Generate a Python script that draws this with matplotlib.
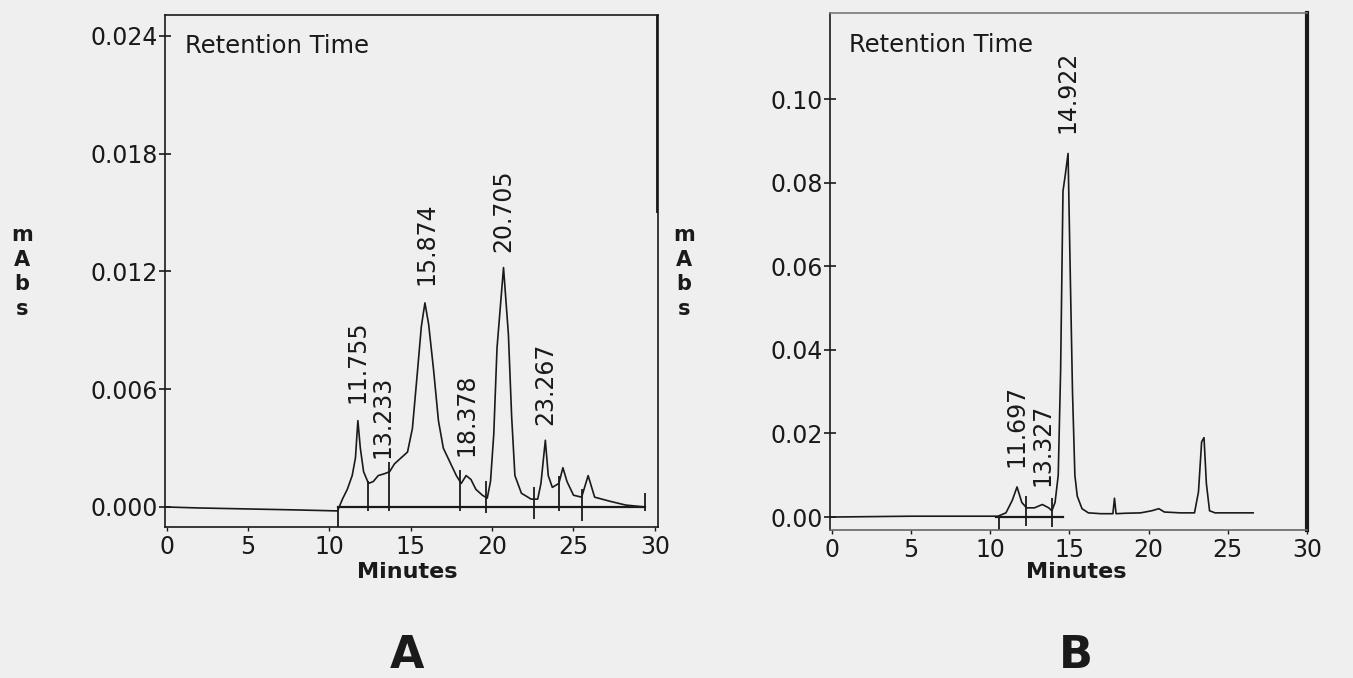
import numpy as np
import matplotlib.pyplot as plt

# ---- panel A chromatogram (minutes, absorbance) ----
time_a = [0, 2, 5, 8, 10.5, 10.8, 11.1, 11.4, 11.6, 11.75, 11.9, 12.1, 12.4, 12.7,
          13.0, 13.4, 13.7, 14.0, 14.4, 14.8, 15.1, 15.4, 15.65, 15.87, 16.1, 16.4,
          16.7, 17.0, 17.4, 17.8, 18.1, 18.4, 18.7, 19.0, 19.4, 19.7, 19.9, 20.1,
          20.3, 20.7, 21.0, 21.2, 21.4, 21.8, 22.4, 22.8, 23.0, 23.27, 23.45, 23.7,
          24.1, 24.35, 24.6, 25.0, 25.5, 25.9, 26.3, 27.2, 28.2, 29.4]
abs_a = [0.0000, -0.00005, -0.0001, -0.00015, -0.0002, 0.0004, 0.0009, 0.0016,
         0.0025, 0.0044, 0.0030, 0.0018, 0.0012, 0.0013, 0.0016, 0.0017, 0.0018,
         0.0022, 0.0025, 0.0028, 0.0040, 0.0068, 0.0092, 0.0104, 0.0093, 0.0070,
         0.0044, 0.0030, 0.0023, 0.0016, 0.0012, 0.0016, 0.0014, 0.0009, 0.0006,
         0.00045, 0.0013, 0.0037, 0.0081, 0.0122, 0.0088, 0.0046, 0.0016, 0.0007,
         0.0004, 0.0004, 0.0012, 0.0034, 0.0016, 0.0010, 0.0012, 0.0020, 0.0013,
         0.0006, 0.0005, 0.0016, 0.0005, 0.0003, 0.0001, 0.0000]
base_a = [10.5, 29.4]
drops_a = [10.5, 12.35, 13.65, 18.05, 19.65, 22.55, 24.1, 25.55, 29.4]
drop_top_a = [0.0000, 0.0013, 0.0023, 0.0019, 0.0013, 0.0010, 0.0016, 0.0009, 0.0007]
drop_bot_a = [-0.0010, -0.0002, -0.0002, -0.0002, -0.0003, -0.0006, -0.0002, -0.0007, -0.0002]
peaks_a = ['11.755', '13.233', '15.874', '18.378', '20.705', '23.267']
peak_t_a = [11.75, 13.25, 15.95, 18.45, 20.7, 23.25]
peak_lab_y_a = [0.0053, 0.0025, 0.0113, 0.0026, 0.0130, 0.0042]

# ---- panel B chromatogram ----
time_b = [0, 5, 10, 10.5, 11.0, 11.4, 11.7, 12.0, 12.3, 12.8, 13.3, 13.7, 13.9,
          14.1, 14.3, 14.45, 14.6, 14.75, 14.92, 15.05, 15.2, 15.35, 15.5, 15.8,
          16.2, 17.0, 17.75, 17.85, 17.95, 18.5, 19.5, 20.2, 20.65, 21.0, 22.0,
          22.9, 23.15, 23.35, 23.5, 23.65, 23.85, 24.2, 25.0, 26.6]
abs_b = [0.0, 0.0002, 0.0002, 0.0002, 0.0010, 0.0040, 0.0072, 0.0035, 0.0022,
         0.0022, 0.0030, 0.0022, 0.0015, 0.0035, 0.0100, 0.0350, 0.0780, 0.0820,
         0.0870, 0.0600, 0.0300, 0.0100, 0.0050, 0.0020, 0.0010, 0.0008, 0.0008,
         0.0045, 0.0008, 0.0009, 0.0010, 0.0015, 0.0020, 0.0012, 0.0010, 0.0010,
         0.0060, 0.0180, 0.0190, 0.0080, 0.0015, 0.0010, 0.0010, 0.0010]
base_b = [10.35, 14.6]
drops_b = [10.55, 12.25, 13.9]
drop_top_b = [0.0000, 0.0050, 0.0045]
drop_bot_b = [-0.0030, -0.0022, -0.0025]
peaks_b = ['11.697', '13.327', '14.922']
peak_t_b = [11.65, 13.3, 14.85]
peak_lab_y_b = [0.0120, 0.0074, 0.0920]

bg = '#efefef'
ink = '#1a1a1a'
plt.rcParams['font.family'] = 'DejaVu Sans'

fig = plt.figure(figsize=(13.53, 6.78), dpi=100, facecolor=bg)
ax_a = fig.add_axes([0.1220, 0.2227, 0.3644, 0.7552])
ax_b = fig.add_axes([0.6135, 0.2183, 0.3525, 0.7625])


def draw(ax, t, y, base, drops, dtop, dbot, labels, lt, ly, yfmt):
    ax.set_facecolor(bg)
    ax.plot(t, y, color=ink, lw=1.2)
    ax.plot(base, [0, 0], color=ink, lw=1.6)
    ax.vlines(drops, dbot, dtop, color=ink, lw=1.3)
    for s, x, yy in zip(labels, lt, ly):
        ax.text(x, yy, s, rotation=90, ha='center', va='bottom',
                fontsize=17, color=ink)
    ax.text(0.04, 0.962, 'Retention Time', transform=ax.transAxes,
            ha='left', va='top', fontsize=17.5, color=ink)
    ax.set_xticks(np.arange(0, 31, 5))
    ax.tick_params(axis='x', direction='out', length=3, width=1, pad=3,
                   labelsize=17, colors=ink)
    ax.tick_params(axis='y', direction='inout', length=9, width=1.2, pad=0.5,
                   labelsize=17, colors=ink)
    ax.yaxis.set_major_formatter(plt.FormatStrFormatter(yfmt))
    for sp in ax.spines.values():
        sp.set_color(ink)
        sp.set_linewidth(1.2)


draw(ax_a, time_a, abs_a, base_a, drops_a, drop_top_a, drop_bot_a,
     peaks_a, peak_t_a, peak_lab_y_a, '%.3f')
ax_a.set_xlim(-0.1, 30.2)
ax_a.set_ylim(-0.00102, 0.02507)
ax_a.set_yticks([0, 0.006, 0.012, 0.018, 0.024])
ax_a.axvline(30.2, ymin=0.62, ymax=1.0, color=ink, lw=3.5)

draw(ax_b, time_b, abs_b, base_b, drops_b, drop_top_b, drop_bot_b,
     peaks_b, peak_t_b, peak_lab_y_b, '%.2f')
ax_b.set_xlim(-0.1, 30.0)
ax_b.set_ylim(-0.0031, 0.1206)
ax_b.set_yticks([0, 0.02, 0.04, 0.06, 0.08, 0.10])
ax_b.spines['right'].set_linewidth(3)
ax_b.spines['top'].set_color('#777777')
ax_b.spines['bottom'].set_color('#666666')

for x, xl, xm in [(407, 'A', 22), (1076, 'B', 684)]:
    fig.text(x / 1353, 1 - 572 / 678, 'Minutes', ha='center', va='center',
             fontsize=16, fontweight='bold', color=ink)
    fig.text(x / 1353, 1 - 656 / 678, xl, ha='center', va='center',
             fontsize=32, fontweight='bold', color=ink)
    fig.text(xm / 1353, 1 - 272 / 678, 'm\nA\nb\ns', ha='center', va='center',
             fontsize=15, fontweight='bold', color=ink, linespacing=1.3)

fig.savefig('out.png', dpi=100, facecolor=bg)
